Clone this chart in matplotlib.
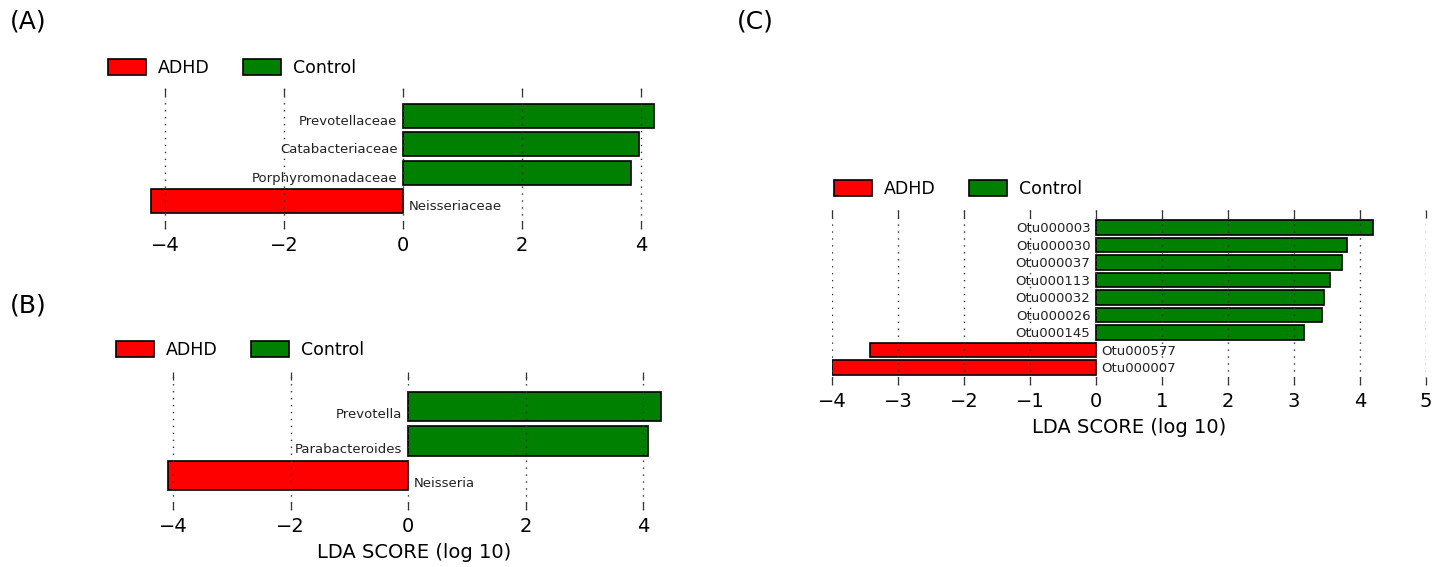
import numpy as np
import matplotlib
matplotlib.use("Agg")
import matplotlib.pyplot as plt
from matplotlib.patches import Patch

# LDA scores
a_names = ["Prevotellaceae", "Catabacteriaceae", "Porphyromonadaceae", "Neisseriaceae"]
a_lda = [4.22, 3.96, 3.83, -4.23]

b_names = ["Prevotella", "Parabacteroides", "Neisseria"]
b_lda = [4.30, 4.08, -4.08]

c_names = ["Otu000003", "Otu000030", "Otu000037", "Otu000113", "Otu000032",
           "Otu000026", "Otu000145", "Otu000577", "Otu000007"]
c_lda = [4.20, 3.80, 3.72, 3.54, 3.45, 3.42, 3.15, -3.43, -4.00]

groups = ["ADHD", "Control"]
RED = "#ff0000"
GREEN = "#008000"

W, H = 1444, 567
plt.rcParams["font.family"] = "DejaVu Sans"

fig = plt.figure(figsize=(W / 100, H / 100), dpi=100)


def px_rect(zero, ppu, xlim, top, bottom):
    # axes box in figure fraction from pixel geometry of the reference
    left = zero + ppu * xlim[0]
    right = zero + ppu * xlim[1]
    return [left / W, 1 - bottom / H, (right - left) / W, (bottom - top) / H]


def lda_panel(rect, names, lda, xlim, xticks, legend_xy, xlabel=None):
    ax = fig.add_axes(rect)
    n = len(names)
    y = np.arange(n)
    colors = [GREEN if v > 0 else RED for v in lda]
    ax.barh(y, lda, height=0.85, color=colors, edgecolor="black", linewidth=1.2)
    ax.set_ylim(n, -1)
    ax.set_xlim(*xlim)
    ax.set_xticks(xticks)
    ax.set_axisbelow(False)
    ax.grid(axis="x", linestyle=(0, (1, 4)), color="#333333", linewidth=1.0)
    for s in ax.spines.values():
        s.set_visible(False)
    ax.tick_params(axis="x", direction="in", top=True, bottom=True, length=6,
                   width=0.9, color="#333333", labelsize=14, pad=5)
    ax.tick_params(axis="y", left=False, labelleft=False)

    for i, (name, v) in enumerate(zip(names, lda)):
        if v > 0:
            ax.annotate(name, xy=(0, i + 0.42), xytext=(-4, 2), textcoords="offset points",
                        ha="right", va="baseline", fontsize=9.5, color="#222222")
        else:
            ax.annotate(name, xy=(0, i + 0.42), xytext=(4, 2), textcoords="offset points",
                        ha="left", va="baseline", fontsize=9.5, color="#222222")

    if xlabel:
        ax.set_xlabel(xlabel, fontsize=14, labelpad=5)

    handles = [Patch(facecolor=RED, edgecolor="black", linewidth=1.2, label=groups[0]),
               Patch(facecolor=GREEN, edgecolor="black", linewidth=1.2, label=groups[1])]
    ax.legend(handles=handles, loc="center left", ncol=2, frameon=False,
              bbox_to_anchor=(legend_xy[0] / W, 1 - legend_xy[1] / H),
              bbox_transform=fig.transFigure, borderpad=0, borderaxespad=0,
              fontsize=12.5, handlelength=2.2, handleheight=1.0,
              handletextpad=0.7, columnspacing=1.9)
    return ax


lda_panel(px_rect(403, 59.5, (-4.25, 4.25), 88, 229), a_names, a_lda,
          (-4.25, 4.25), [-4, -2, 0, 2, 4], (108, 68))
lda_panel(px_rect(408, 58.75, (-4.1, 4.32), 372, 510), b_names, b_lda,
          (-4.1, 4.32), [-4, -2, 0, 2, 4], (116, 350), xlabel="LDA SCORE (log 10)")
lda_panel(px_rect(1096, 66.0, (-4.0, 5.0), 210, 385), c_names, c_lda,
          (-4.0, 5.0), list(range(-4, 6)), (834, 189), xlabel="LDA SCORE (log 10)")

fig.text(10 / W, 1 - 22 / H, "(A)", fontsize=18, ha="left", va="center")
fig.text(10 / W, 1 - 305 / H, "(B)", fontsize=18, ha="left", va="center")
fig.text(737 / W, 1 - 22 / H, "(C)", fontsize=18, ha="left", va="center")

fig.savefig("out.png", dpi=100)
